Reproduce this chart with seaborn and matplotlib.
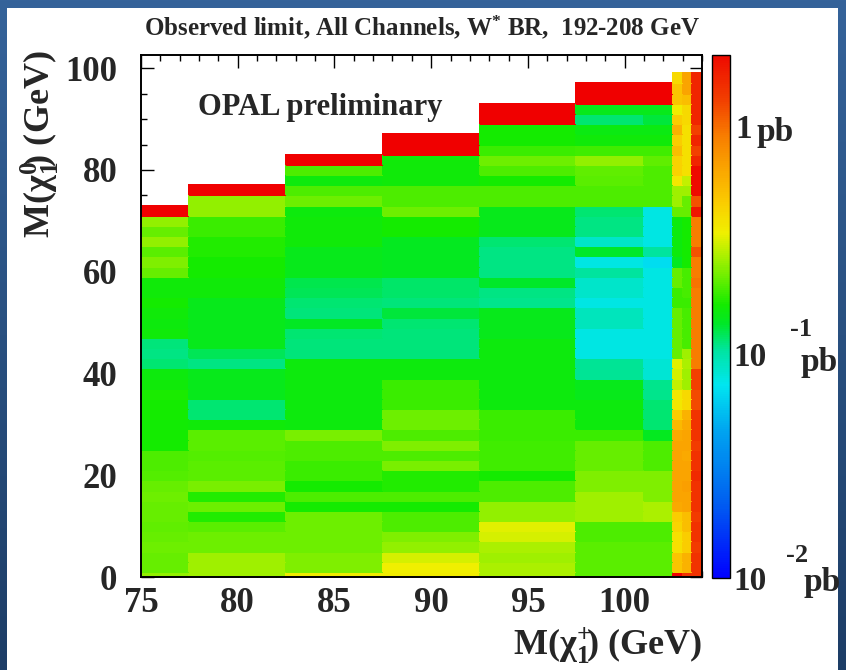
import numpy as np
import matplotlib
matplotlib.use("Agg")
import matplotlib.pyplot as plt
import seaborn as sns
from matplotlib.colors import LogNorm, LinearSegmentedColormap
from matplotlib.ticker import FixedLocator
from matplotlib.patches import Rectangle

# ---------------- data (log10 of observed limit in pb) ----------------
# chargino-mass bin edges (GeV); neutralino rows are 2 GeV wide, centred at 0, 2, 4, ...
chargino_edges = [75, 77.5, 82.5, 87.5, 92.5, 97.5, 101, 102.5, 103, 103.5, 104]
row_width = 2.0

# each list: rows from M(chi0)=0 upward
lim_75_77 = [-0.62, -0.68, -0.68, -0.67, -0.68, -0.69, -0.68, -0.68, -0.67, -0.68,
             -0.71, -0.72, -0.72, -0.80, -0.80, -0.81, -0.80, -0.80, -0.79, -0.82,
             -0.83, -0.95, -0.97, -0.96, -0.82, -0.83, -0.82, -0.80, -0.82, -0.82,
             -0.68, -0.65, -0.70, -0.62, -0.68, -0.62, 0.5]
lim_77_82 = [-0.60, -0.60, -0.60, -0.67, -0.67, -0.70, -0.78, -0.67, -0.78, -0.66,
             -0.70, -0.70, -0.71, -0.70, -0.70, -0.82, -0.95, -0.95, -0.85, -0.85,
             -0.85, -0.97, -0.93, -0.85, -0.85, -0.85, -0.85, -0.85, -0.82, -0.82,
             -0.80, -0.80, -0.78, -0.78, -0.75, -0.75, -0.62, -0.62, 0.5]
lim_82_87 = [-0.47, -0.65, -0.65, -0.67, -0.67, -0.67, -0.67, -0.80, -0.72, -0.80,
             -0.75, -0.75, -0.72, -0.72, -0.66, -0.83, -0.83, -0.83, -0.83, -0.83,
             -0.83, -0.83, -0.96, -0.96, -0.95, -0.87, -0.96, -0.95, -0.93, -0.92,
             -0.85, -0.85, -0.85, -0.82, -0.82, -0.82, -0.83, -0.67, -0.72, -0.83,
             -0.72, 0.5]
lim_87_92 = [-0.47, -0.48, -0.52, -0.62, -0.65, -0.72, -0.72, -0.80, -0.72, -0.78,
             -0.78, -0.66, -0.72, -0.65, -0.72, -0.67, -0.67, -0.75, -0.75, -0.75,
             -0.83, -0.83, -0.96, -0.96, -0.96, -0.95, -0.90, -0.96, -0.94, -0.94,
             -0.86, -0.86, -0.86, -0.86, -0.80, -0.80, -0.67, -0.72, -0.72, -0.82,
             -0.82, -0.82, 0.5, 0.5]
lim_92_97 = [-0.58, -0.58, -0.60, -0.58, -0.52, -0.50, -0.62, -0.62, -0.72, -0.72,
             -0.80, -0.74, -0.74, -0.74, -0.75, -0.75, -0.75, -0.83, -0.83, -0.83,
             -0.83, -0.83, -0.83, -0.83, -0.85, -0.85, -0.85, -0.98, -0.97, -0.88,
             -0.97, -0.97, -0.97, -0.95, -0.85, -0.85, -0.85, -0.72, -0.72, -0.80,
             -0.72, -0.67, -0.75, -0.80, -0.80, 0.5, 0.5]
lim_97_101 = [-0.70, -0.70, -0.70, -0.70, -0.72, -0.72, -0.60, -0.60, -0.60, -0.65,
              -0.65, -0.68, -0.68, -0.68, -0.75, -0.83, -0.83, -0.83, -0.85, -0.85,
              -0.99, -0.99, -1.12, -1.12, -1.12, -1.05, -1.05, -1.12, -1.08, -1.08,
              -1.00, -1.12, -0.88, -1.08, -0.97, -0.97, -0.95, -0.72, -0.72, -0.70,
              -0.69, -0.62, -0.74, -0.82, -0.84, -0.95, -0.85, 0.5, 0.5]
lim_101_102 = [-0.70, -0.70, -0.70, -0.70, -0.72, -0.72, -0.58, -0.58, -0.65, -0.65,
               -0.65, -0.72, -0.72, -0.72, -0.86, -0.95, -0.95, -0.95, -0.98, -0.98,
               -1.10, -1.10, -1.12, -1.12, -1.12, -1.12, -1.12, -1.12, -1.12, -1.12,
               -1.12, -1.18, -1.00, -1.12, -1.12, -1.12, -1.12, -0.72, -0.72, -0.72,
               -0.72, -0.69, -0.74, -0.82, -0.84, -0.90, -0.85, 0.5, 0.5]
lim_102_103 = [0.35, -0.32, -0.32, -0.42, -0.42, -0.38, -0.35, -0.22, -0.20, -0.20,
               -0.20, -0.20, -0.20, -0.20, -0.22, -0.28, -0.35, -0.45, -0.45, -0.55,
               -0.52, -0.50, -0.68, -0.68, -0.68, -0.68, -0.68, -0.75, -0.75, -0.68,
               -0.68, -0.86, -0.83, -0.83, -0.83, -0.83, -0.68, -0.60, -0.60, -0.45,
               -0.37, -0.37, -0.30, -0.35, -0.25, -0.35, -0.47, -0.32, -0.32, -0.40]
lim_103_1035 = [0.15, -0.25, -0.25, -0.35, -0.35, -0.30, -0.30, -0.20, -0.20, -0.18,
                -0.20, -0.20, -0.22, -0.20, -0.20, -0.22, -0.25, -0.40, -0.40, -0.60,
                -0.60, -0.58, -0.60, -0.73, -0.73, -0.73, -0.73, -0.75, -0.73, -0.73,
                -0.73, -0.80, -0.80, -0.80, -0.80, -0.80, -0.68, -0.68, -0.60, -0.55,
                -0.42, -0.42, -0.42, -0.42, -0.42, -0.40, -0.40, -0.30, -0.20, -0.20]
lim_1035_104 = [0.15, 0.15, 0.15, 0.12, 0.15, 0.15, 0.12, 0.15, 0.15, 0.15,
                0.18, 0.15, 0.15, 0.12, 0.15, 0.15, 0.15, 0.07, 0.07, 0.10,
                0.10, -0.05, -0.05, -0.05, -0.05, -0.05, -0.05, -0.05, -0.05, -0.03,
                -0.05, -0.05, 0.05, -0.05, -0.05, -0.05, 0.25, 0.05, 0.30, 0.30,
                0.30, 0.20, 0.10, 0.20, 0.10, 0.20, 0.20, 0.20, 0.20, 0.20]
columns = [lim_75_77, lim_77_82, lim_82_87, lim_87_92, lim_92_97,
           lim_97_101, lim_101_102, lim_102_103, lim_103_1035, lim_1035_104]

x_ticks_major = [75, 80, 85, 90, 95, 100]
y_ticks_major = [0, 20, 40, 60, 80, 100]
x_lim = (75, 104)
y_lim = (0, 102.6)

# ---------------- build the cell grid (0.5 GeV x 2 GeV cells) ----------------
cell_w = 0.5
n_x = int(round((x_lim[1] - x_lim[0]) / cell_w))
n_y = max(len(c) for c in columns)
Z = np.full((n_y, n_x), np.nan)
for j, col in enumerate(columns):
    a = int(round((chargino_edges[j] - x_lim[0]) / cell_w))
    b = int(round((chargino_edges[j + 1] - x_lim[0]) / cell_w))
    Z[:len(col), a:b] = (10.0 ** np.array(col))[:, None]

def xi(x):  # data -> heatmap column index
    return (x - x_lim[0]) / cell_w

def yi(y):  # data -> heatmap row index
    return (y + row_width / 2) / row_width

# ---------------- colour map (ROOT-like rainbow in log space) ----------------
vmin, vmax = 0.01, 2.0
nodes = [(-2.00, "#0000ff"), (-1.65, "#0064f0"), (-1.35, "#00a5f0"),
         (-1.15, "#00e6f0"), (-1.00, "#00e4a0"), (-0.88, "#00e828"),
         (-0.80, "#14eb00"), (-0.70, "#5aee00"), (-0.60, "#a0f000"),
         (-0.48, "#f0f000"), (-0.35, "#facd00"), (-0.20, "#faa500"),
         (-0.05, "#f87d00"), (0.10, "#f24100"), (np.log10(vmax), "#ee0a00")]
lo, hi = np.log10(vmin), np.log10(vmax)
cmap = LinearSegmentedColormap.from_list(
    "rootlike", [((v - lo) / (hi - lo), c) for v, c in nodes])
cmap.set_over("#f00000")
cmap.set_under("#0000ff")

# ---------------- figure ----------------
sns.set_style("ticks")
plt.rcParams["font.family"] = ["Liberation Serif", "DejaVu Serif"]
plt.rcParams["font.weight"] = "bold"
plt.rcParams["mathtext.fontset"] = "custom"
plt.rcParams["mathtext.rm"] = "Liberation Serif:bold"
plt.rcParams["mathtext.it"] = "Liberation Serif:bold:italic"
plt.rcParams["mathtext.bf"] = "Liberation Serif:bold"
plt.rcParams["mathtext.default"] = "rm"

W, H = 846, 670
fig = plt.figure(figsize=(W / 100, H / 100), dpi=100)

# blue frame with gradient + white panel
bg = fig.add_axes([0, 0, 1, 1], zorder=-10)
grad = np.linspace(0, 1, 256)[:, None]
bg.imshow(grad, aspect="auto", extent=[0, 1, 0, 1], origin="upper",
          cmap=LinearSegmentedColormap.from_list("bgblue", ["#35639a", "#1d3d66"]))
bg.add_patch(Rectangle((7 / W, 0), (838 - 7) / W, (H - 8) / H,
                       facecolor="white", edgecolor="none"))
bg.set_xlim(0, 1); bg.set_ylim(0, 1)
bg.axis("off")

def fx(px):
    return px / W

def fy(py):
    return 1 - py / H

ax = fig.add_axes([fx(141), fy(577), fx(702) - fx(141), fy(55) - fy(577)])
ax.set_facecolor("white")
sns.heatmap(Z, ax=ax, cmap=cmap, norm=LogNorm(vmin=vmin, vmax=vmax),
            cbar=False, xticklabels=False, yticklabels=False)
mesh = ax.collections[0]
mesh.set_edgecolor("face")
mesh.set_linewidth(0.3)

ax.set_xlim(xi(x_lim[0]), xi(x_lim[1]))
ax.set_ylim(yi(y_lim[0]), yi(y_lim[1]))

ax.set_xticks([xi(v) for v in x_ticks_major])
ax.set_xticklabels([str(v) for v in x_ticks_major])
ax.xaxis.set_minor_locator(FixedLocator([xi(v) for v in range(75, 105)]))
ax.set_yticks([yi(v) for v in y_ticks_major])
ax.set_yticklabels([str(v) for v in y_ticks_major])
ax.yaxis.set_minor_locator(FixedLocator([yi(v) for v in range(0, 103, 5)]))

for s in ax.spines.values():
    s.set_visible(True)
    s.set_color("black")
    s.set_linewidth(1.4)
ax.tick_params(which="both", direction="in", top=True, right=True,
               bottom=True, left=True, color="black", width=1.0)
ax.tick_params(which="major", length=9)
ax.tick_params(which="minor", length=4.5)
ax.tick_params(axis="x", which="major", labelsize=25, pad=7)
ax.tick_params(axis="y", which="major", labelsize=25, pad=17)
for lab in ax.get_xticklabels() + ax.get_yticklabels():
    lab.set_fontweight("bold")
ax.set_xlabel(""); ax.set_ylabel("")

# colour bar
cax = fig.add_axes([fx(712), fy(578), fx(730) - fx(712), fy(55) - fy(578)])
cb = fig.colorbar(mesh, cax=cax)
cb.outline.set_linewidth(1.0)
cb.outline.set_edgecolor("black")
cb.set_ticks([0.1, 1.0])
minors = [m * d for d in (0.01, 0.1, 1.0) for m in range(2, 10) if m * d < vmax]
cax.yaxis.set_minor_locator(FixedLocator(minors))
cax.tick_params(which="both", direction="in", right=True, left=False,
                labelright=False, labelleft=False, color="black", width=1.0)
cax.tick_params(which="major", length=13)
cax.tick_params(which="minor", length=6)

# colour-bar labels (ROOT style)
lab_kw = dict(fontsize=24, fontweight="bold", va="center")
fig.text(fx(735), fy(130), "1", ha="left", **lab_kw)
fig.text(fx(756), fy(132), "pb", ha="left", **lab_kw)
fig.text(fx(733), fy(357), "10", ha="left", **lab_kw)
fig.text(fx(790), fy(330), "-1", ha="left", fontsize=19, fontweight="bold", va="center")
fig.text(fx(800), fy(362), "pb", ha="left", **lab_kw)
fig.text(fx(733), fy(582), "10", ha="left", **lab_kw)
fig.text(fx(786), fy(555), "-2", ha="left", fontsize=19, fontweight="bold", va="center")
fig.text(fx(803), fy(582), "pb", ha="left", **lab_kw)

# titles and annotations
fig.text(fx(422), fy(27), "Observed limit, All Channels, W$^{*}$ BR,  192-208 GeV",
         ha="center", va="center", fontsize=18, fontweight="bold")
fig.text(fx(198), fy(107), "OPAL preliminary", ha="left", va="center",
         fontsize=22, fontweight="bold")
fig.text(fx(702), fy(655), r"M($\chi_1^{+}\!$) (GeV)", ha="right", va="baseline",
         fontsize=26, fontweight="bold")
fig.text(fx(40), fy(50), r"M($\chi_1^{0}\!$) (GeV)", ha="center", va="top",
         rotation=90, fontsize=26, fontweight="bold")

fig.savefig("out.png", dpi=100)
